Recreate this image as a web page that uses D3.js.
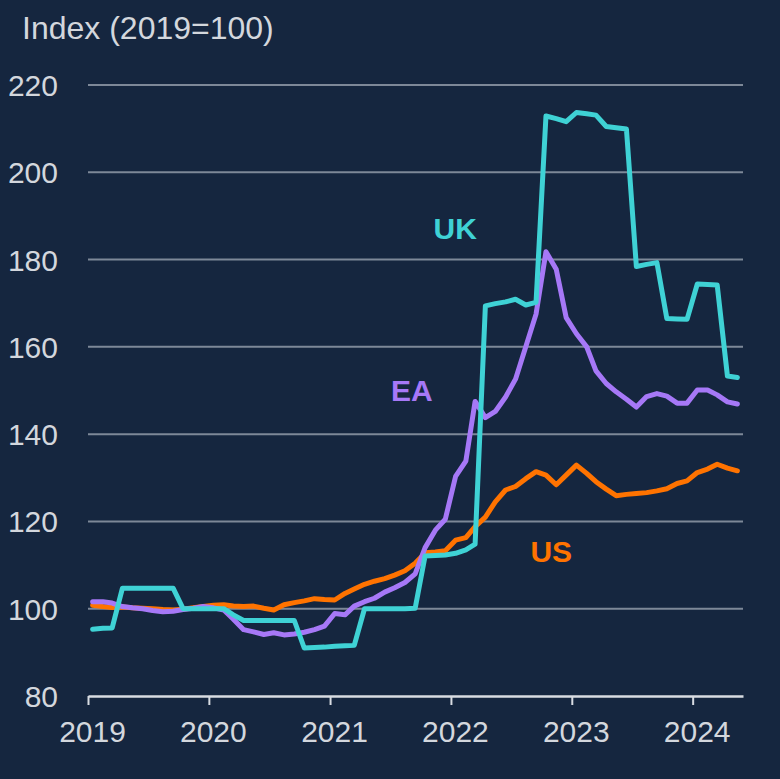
<!DOCTYPE html>
<html>
<head>
<meta charset="utf-8">
<script src="https://cdn.jsdelivr.net/npm/d3@7"></script>
<style>
  html, body { margin: 0; padding: 0; background: #15263f; }
  text { font-family: "Liberation Sans", Arial, sans-serif; }
</style>
</head>
<body>
<div id="my_dataviz"></div>
<script>

// monthly values, Jan 2019 - May 2024 (Index 2019=100)
var ukValues = [95.3, 95.5, 95.6, 104.7, 104.7, 104.7, 104.7, 104.7, 104.7, 100.0, 100.0, 100.0,
    100.0, 100.0, 98.6, 97.3, 97.3, 97.3, 97.3, 97.3, 97.3, 91.0, 91.1, 91.2,
    91.4, 91.5, 91.6, 100.0, 100.0, 100.0, 100.0, 100.0, 100.1, 112.1, 112.2, 112.3,
    112.7, 113.5, 114.8, 169.4, 169.9, 170.3, 170.9, 169.6, 170.2, 212.9, 212.3, 211.6,
    213.7, 213.4, 213.1, 210.5, 210.2, 209.9, 178.4, 178.9, 179.3, 166.5, 166.4, 166.3,
    174.4, 174.3, 174.2, 153.3, 153.0];

var eaValues = [101.6, 101.6, 101.3, 100.5, 100.2, 100.0, 99.6, 99.3, 99.4, 99.8, 100.1, 100.5,
    100.2, 99.7, 97.6, 95.2, 94.7, 94.1, 94.5, 94.0, 94.2, 94.6, 95.2, 96.0,
    98.9, 98.6, 100.6, 101.6, 102.4, 103.8, 104.8, 106.0, 108.0, 114.0, 118.0, 120.5,
    130.3, 133.8, 147.5, 143.8, 145.2, 148.5, 152.6, 160.0, 167.5, 181.8, 177.8, 166.7,
    163.0, 160.0, 154.5, 151.6, 149.7, 148.0, 146.2, 148.6, 149.3, 148.7, 147.1, 147.1,
    150.1, 150.1, 149.0, 147.4, 146.9];

var usValues = [100.8, 100.5, 100.3, 100.4, 100.2, 100.1, 100.0, 99.8, 99.7, 99.9, 100.2, 100.5,
    100.8, 100.9, 100.6, 100.5, 100.6, 100.1, 99.7, 100.9, 101.4, 101.8, 102.3, 102.1,
    102.0, 103.5, 104.5, 105.6, 106.3, 106.9, 107.7, 108.7, 110.4, 112.8, 113.0, 113.3,
    115.7, 116.3, 118.8, 121.0, 124.5, 127.2, 128.0, 129.8, 131.4, 130.6, 128.4, 130.6,
    132.9, 131.0, 129.1, 127.4, 125.9, 126.2, 126.4, 126.6, 127.0, 127.5, 128.7, 129.3,
    131.2, 132.0, 133.1, 132.2, 131.6];

var yearTicks = [2019, 2020, 2021, 2022, 2023, 2024];
var valueTicks = [80, 100, 120, 140, 160, 180, 200, 220];

var seriesNames = ["US", "EA", "UK"];
var seriesColors = {"UK": "#3fd2d5", "EA": "#a678f7", "US": "#ff7300"};

// months plotted mid-month
var months = d3.timeMonth.range(new Date(2019, 0, 1), new Date(2024, 5, 1))
    .map(function(d) { return new Date(d.getFullYear(), d.getMonth(), 15); });

function toSeries(values) {
    return values.map(function(v, i) { return {date: months[i], value: v}; });
}

var series = {
    "UK": toSeries(ukValues),
    "EA": toSeries(eaValues),
    "US": toSeries(usValues)
};

var W = 780, H = 779;
var margin = {top: 85, right: 37, bottom: 83, left: 88},
    width = W - margin.left - margin.right,
    height = H - margin.top - margin.bottom;

var svg = d3.select("#my_dataviz")
    .append("svg")
        .attr("width", W)
        .attr("height", H);

svg.append("rect")
    .attr("width", W)
    .attr("height", H)
    .attr("fill", "#15263f");

var g = svg.append("g")
    .attr("transform", "translate(" + margin.left + "," + margin.top + ")");

var x = d3.scaleTime()
    .domain([new Date(2019, 0, 1), new Date(2024, 5, 1)])
    .range([0, width]);

var y = d3.scaleLinear()
    .domain([80, 220])
    .range([height, 0]);

// gridlines
g.append("g")
    .selectAll("line")
    .data(valueTicks.filter(function(d) { return d > 80; }))
    .enter()
    .append("line")
        .attr("x1", 0)
        .attr("x2", width)
        .attr("y1", function(d) { return y(d); })
        .attr("y2", function(d) { return y(d); })
        .attr("stroke", "#7d8898")
        .attr("stroke-width", 2);

// Y axis labels
var yAxis = g.append("g")
    .call(d3.axisLeft(y).tickValues(valueTicks).tickSize(0).tickPadding(30));
yAxis.select(".domain").remove();
yAxis.selectAll("text")
    .attr("fill", "#d3d7dd")
    .style("font-size", "30px")
    .attr("dy", "0.35em");

// X axis
var xAxis = g.append("g")
    .attr("transform", "translate(0," + height + ")")
    .call(d3.axisBottom(x)
        .tickValues(yearTicks.map(function(d) { return new Date(d, 0, 1); }))
        .tickFormat(d3.timeFormat("%Y"))
        .tickSize(9)
        .tickSizeOuter(0)
        .tickPadding(16));
xAxis.select(".domain")
    .attr("stroke", "#d8dce2")
    .attr("stroke-width", 2.5);
xAxis.selectAll(".tick line")
    .attr("stroke", "#d8dce2")
    .attr("stroke-width", 2);
xAxis.selectAll("text")
    .attr("fill", "#d3d7dd")
    .attr("dx", 4)
    .style("font-size", "30px");

// axis title
svg.append("text")
    .attr("x", 22)
    .attr("y", 39)
    .attr("fill", "#d3d7dd")
    .style("font-size", "32px")
    .text("Index (2019=100)");

// lines
var line = d3.line()
    .x(function(d) { return x(d.date); })
    .y(function(d) { return y(d.value); });

seriesNames.forEach(function(name) {
    g.append("path")
        .datum(series[name])
        .attr("fill", "none")
        .attr("stroke", seriesColors[name])
        .attr("stroke-width", 5)
        .attr("stroke-linejoin", "round")
        .attr("stroke-linecap", "round")
        .attr("d", line);
});

// series labels
var labels = [
    {name: "UK", date: new Date(2022, 0, 14), value: 184.6},
    {name: "EA", date: new Date(2021, 8, 5), value: 147.7},
    {name: "US", date: new Date(2022, 9, 31), value: 110.8}
];

g.selectAll(".series-label")
    .data(labels)
    .enter()
    .append("text")
        .attr("class", "series-label")
        .attr("x", function(d) { return x(d.date); })
        .attr("y", function(d) { return y(d.value); })
        .attr("text-anchor", "middle")
        .attr("fill", function(d) { return seriesColors[d.name]; })
        .style("font-size", "30px")
        .style("font-weight", "bold")
        .text(function(d) { return d.name; });

</script>
</body>
</html>
